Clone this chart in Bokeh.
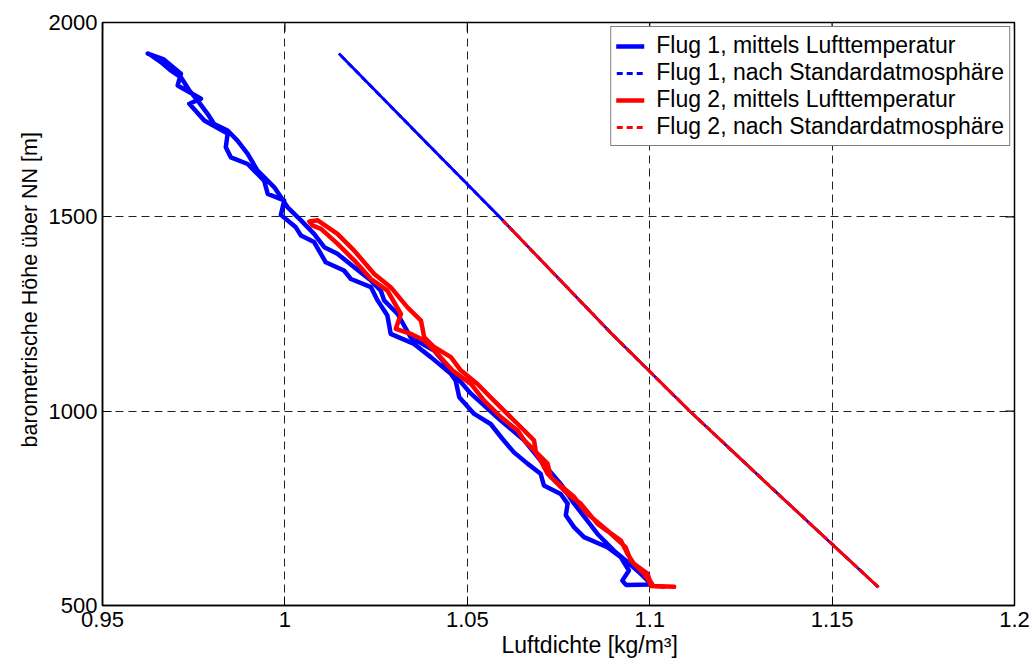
import math
from bokeh.plotting import figure
from bokeh.models import Legend, LegendItem, FixedTicker, Range1d, Title
from bokeh.embed import file_html
from bokeh.resources import INLINE

# ---------------- data ----------------
x_ticks = [0.95, 1.0, 1.05, 1.1, 1.15, 1.2]
x_tick_labels = ["0.95", "1", "1.05", "1.1", "1.15", "1.2"]
y_ticks = [500, 1000, 1500, 2000]
y_tick_labels = ["500", "1000", "1500", "2000"]

# Flug 1, mittels Lufttemperatur (ascent, then descent)
f1_rho = [1.1003, 1.0935, 1.0925, 1.0943, 1.0921, 1.0884, 1.0820, 1.0793, 1.0770, 1.0775, 1.0756,
          1.0710, 1.0701, 1.0665, 1.0628, 1.0596, 1.0564, 1.0519, 1.0478, 1.0468, 1.0455,
          1.0400, 1.0354, 1.0290, 1.0286, 1.0281, 1.0254, 1.0236, 1.0181, 1.0162, 1.0112,
          1.0080, 1.0044, 1.0030, 0.9989, 0.9998, 0.9953, 0.9943, 0.9898, 0.9852, 0.9838,
          0.9843, 0.9779, 0.9738, 0.9770, 0.9706, 0.9715, 0.9668, 0.9624,
          0.9628, 0.9660, 0.9688, 0.9715, 0.9738, 0.9761, 0.9788, 0.9806, 0.9843, 0.9870,
          0.9898, 0.9925, 0.9971, 1.0007, 1.0044, 1.0080, 1.0108, 1.0144, 1.0190, 1.0236,
          1.0263, 1.0272, 1.0309, 1.0345, 1.0409, 1.0455, 1.0510, 1.0546, 1.0592, 1.0656,
          1.0701, 1.0756, 1.0793, 1.0857, 1.0902, 1.0939, 1.0975, 1.1003]
f1_h = [554, 553, 564, 590, 624, 650, 676, 701, 732, 762, 787,
        809, 839, 865, 894, 929, 967, 993, 1036, 1079, 1096,
        1139, 1173, 1199, 1220, 1246, 1285, 1319, 1340, 1362, 1383,
        1435, 1452, 1473, 1505, 1542, 1559, 1593, 1636, 1653, 1679,
        1714, 1748, 1791, 1804, 1838, 1868, 1905, 1920,
        1919, 1898, 1876, 1859, 1825, 1799, 1765, 1739, 1722, 1696,
        1662, 1619, 1576, 1525, 1491, 1456, 1422, 1405, 1370, 1336,
        1310, 1285, 1250, 1190, 1156, 1105, 1045, 1015, 976, 925,
        873, 813, 762, 684, 641, 612, 582, 556]

# Flug 2, mittels Lufttemperatur (ascent, then descent)
f2_rho = [1.1067, 1.1010, 1.1000, 1.0994, 1.0957, 1.0939, 1.0921, 1.0857, 1.0811, 1.0775, 1.0720,
          1.0701, 1.0688, 1.0683, 1.0638, 1.0573, 1.0528, 1.0482, 1.0455, 1.0409, 1.0382,
          1.0373, 1.0336, 1.0290, 1.0245, 1.0190, 1.0144, 1.0090, 1.0067, 1.0075,
          1.0099, 1.0144, 1.0190, 1.0236, 1.0281, 1.0318, 1.0304, 1.0345, 1.0382, 1.0418,
          1.0459, 1.0510, 1.0546, 1.0592, 1.0638, 1.0656, 1.0720, 1.0729, 1.0793, 1.0829,
          1.0884, 1.0934, 1.0948, 1.0984, 1.0998, 1.1003, 1.1040]
f2_h = [548, 550, 565, 582, 607, 633, 667, 710, 762, 787, 839,
        873, 894, 925, 967, 1027, 1070, 1105, 1139, 1165, 1190,
        1233, 1267, 1319, 1353, 1413, 1456, 1491, 1488, 1478,
        1469, 1431, 1388, 1340, 1310, 1250, 1212, 1199, 1182, 1148,
        1105, 1070, 1027, 985, 950, 925, 865, 830, 779, 736,
        693, 650, 616, 582, 564, 550, 548]

# nach Standardatmosphäre
f1_std_rho = [1.1627, 1.1337, 1.1110, 1.0895, 1.0588, 1.0378, 1.0148]
f1_std_h = [547, 800, 1000, 1200, 1500, 1700, 1920]
f2_std_rho = [1.1627, 1.1337, 1.1110, 1.0895, 1.0598]
f2_std_h = [547, 800, 1000, 1200, 1490]

labels = ["Flug 1, mittels Lufttemperatur", "Flug 1, nach Standardatmosphäre",
          "Flug 2, mittels Lufttemperatur", "Flug 2, nach Standardatmosphäre"]
x_label = "Luftdichte [kg/m³]"
y_label = "barometrische Höhe über NN [m]"

FONT = "Liberation Sans"
BLUE = "#0000ff"
RED = "#ff0000"

p = figure(width=1032, height=666, x_range=Range1d(0.95, 1.2), y_range=Range1d(500, 2000),
           output_backend="svg", toolbar_location=None,
           min_border_left=102, min_border_right=18, min_border_top=22, min_border_bottom=61)
p.background_fill_color = "white"
p.border_fill_color = "white"
p.outline_line_color = "black"
p.outline_line_width = 1.5

# glyphs
r1 = p.line(f1_rho, f1_h, line_color=BLUE, line_width=4.5, line_join="round", line_cap="round")
p.line(f1_std_rho, f1_std_h, line_color=BLUE, line_width=2.8)
r2 = p.line(f1_std_rho, f1_std_h, line_color=BLUE, line_width=2.8, line_dash="6 4")
r3 = p.line(f2_rho, f2_h, line_color=RED, line_width=4.5, line_join="round", line_cap="round")
p.line(f2_std_rho, f2_std_h, line_color=RED, line_width=2.8, line_dash="12 2")
r4 = p.line(f2_std_rho, f2_std_h, line_color=RED, line_width=2.8, line_dash="6 4")

# inward ticks on the top and right box edges (clipped to the frame)
p.scatter(x_ticks, [y_ticks[-1]] * len(x_ticks), marker="dash", size=18, angle=math.pi / 2,
          line_color="black", line_width=1.2)
p.scatter([x_ticks[-1]] * len(y_ticks), y_ticks, marker="dash", size=18,
          line_color="black", line_width=1.2)

# axes
for ax in (p.xaxis[0], p.yaxis[0]):
    ax.axis_line_width = 1.5
    ax.axis_line_color = "black"
    ax.major_tick_in = 9
    ax.major_tick_out = 0
    ax.minor_tick_in = 0
    ax.minor_tick_out = 0
    ax.major_tick_line_color = "black"
    ax.major_label_text_font = FONT
    ax.major_label_text_font_size = "22px"
    ax.major_label_text_color = "black"

p.xaxis[0].ticker = FixedTicker(ticks=x_ticks)
p.xaxis[0].major_label_overrides = dict(zip(x_ticks, x_tick_labels))
p.xaxis[0].major_label_standoff = 6
p.yaxis[0].ticker = FixedTicker(ticks=y_ticks)
p.yaxis[0].major_label_overrides = dict(zip(y_ticks, y_tick_labels))
p.yaxis[0].major_label_standoff = 5

# axis titles, positioned as in the reference
p.add_layout(Title(text=x_label, align="left", offset=399, standoff=0,
                   text_font=FONT, text_font_size="23px", text_font_style="normal",
                   text_color="black"), "below")
p.add_layout(Title(text=y_label, align="left", offset=158, standoff=8,
                   text_font=FONT, text_font_size="21.5px", text_font_style="normal",
                   text_color="black"), "left")

# grid
p.xgrid.ticker = FixedTicker(ticks=x_ticks)
p.ygrid.ticker = FixedTicker(ticks=y_ticks)
for g in (p.xgrid, p.ygrid):
    g.grid_line_color = "#222222"
    g.grid_line_width = 1
    g.grid_line_dash = "8 5"

legend = Legend(items=[LegendItem(label=labels[0], renderers=[r1]),
                       LegendItem(label=labels[1], renderers=[r2]),
                       LegendItem(label=labels[2], renderers=[r3]),
                       LegendItem(label=labels[3], renderers=[r4])],
                location="top_right")
legend.margin = 4
legend.padding = 5
legend.spacing = 0
legend.glyph_width = 28
legend.glyph_height = 26
legend.label_height = 26
legend.label_standoff = 12
legend.label_text_font = FONT
legend.label_text_font_size = "23px"
legend.label_text_color = "black"
legend.border_line_color = "black"
legend.border_line_width = 1
legend.background_fill_color = "white"
legend.background_fill_alpha = 1
p.add_layout(legend)

open("out.html", "w").write(file_html(p, INLINE))
